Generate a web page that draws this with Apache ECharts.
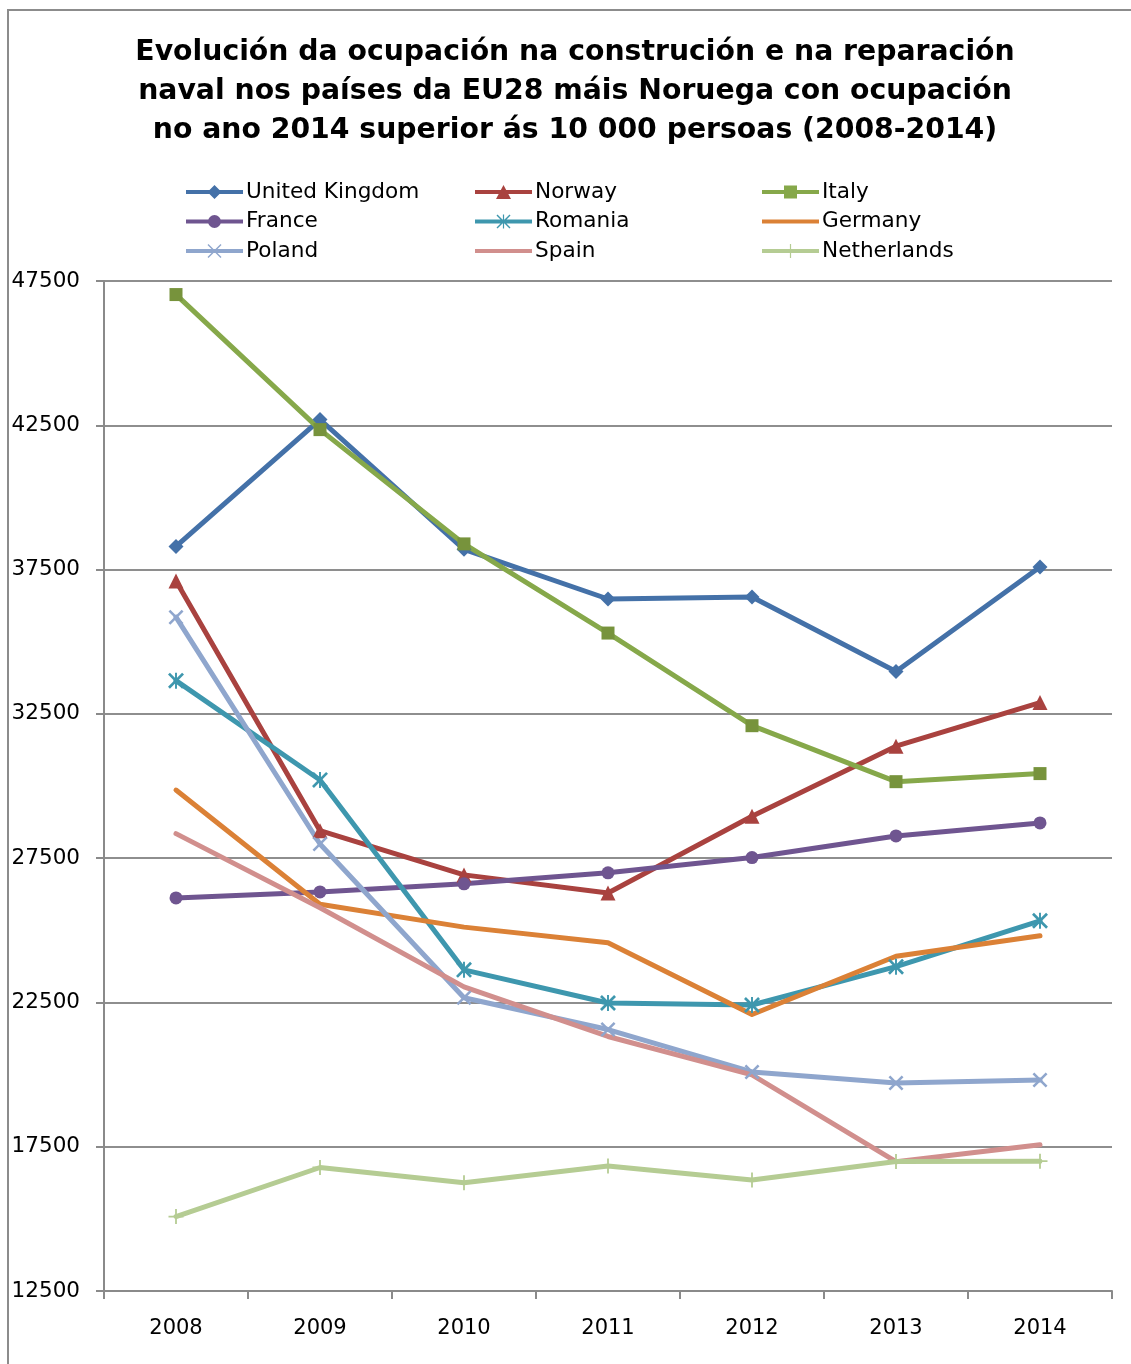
<!DOCTYPE html>
<html>
<head>
<meta charset="utf-8">
<script src="https://cdn.jsdelivr.net/npm/echarts@6/dist/echarts.min.js"></script>
<style>
  html, body { margin: 0; padding: 0; background: #fff; }
  #chart { width: 1131px; height: 1364px; }
</style>
</head>
<body>
<div id="chart"></div>
<script>
// Shipbuilding and ship repair employment, EU28 + Norway (2008-2014)
const years = ['2008', '2009', '2010', '2011', '2012', '2013', '2014'];

const unitedKingdom = [38300, 42700, 38200, 36480, 36550, 33970, 37590];
const norway        = [37100, 28450, 26920, 26290, 28950, 31380, 32890];
const italy         = [47030, 42350, 38390, 35300, 32090, 30150, 30430];
const france        = [26120, 26330, 26610, 26990, 27520, 28270, 28720];
const romania       = [33650, 30210, 23630, 22480, 22410, 23740, 25330];
const germany       = [29860, 25900, 25110, 24570, 22080, 24100, 24810];
const poland        = [35850, 27990, 22660, 21560, 20090, 19710, 19810];
const spain         = [28350, 25780, 23040, 21320, 19990, 16980, 17570];
const netherlands   = [15080, 16780, 16250, 16830, 16350, 16990, 17000];

const yTicks = [12500, 17500, 22500, 27500, 32500, 37500, 42500, 47500];

const FONT = 'DejaVu Sans';

// stroked-looking markers built from thin filled bars
const SYM_X = 'path://M0,1.2 L1.2,0 L10,8.8 L8.8,10 Z M8.8,0 L10,1.2 L1.2,10 L0,8.8 Z';
const SYM_STAR = SYM_X + ' M4.4,0 L5.6,0 L5.6,10 L4.4,10 Z';
const SYM_PLUS = 'path://M4.4,0 L5.6,0 L5.6,10 L4.4,10 Z M0,4.4 L10,4.4 L10,5.6 L0,5.6 Z';

// legend icons: a thick line segment with the series marker in the middle (57 x 14 box)
const BAR = 'M0,5 L57,5 L57,9 L0,9 Z';
const VBAR = ' M27.9,0 L29.1,0 L29.1,14 L27.9,14 Z';
const XMARK = ' M21.5,1 L22.5,0 L35.5,13 L34.5,14 Z M34.5,0 L35.5,1 L22.5,14 L21.5,13 Z';
const ICONS = {
  'United Kingdom': 'path://' + BAR + ' M28.5,0 L35.5,7 L28.5,14 L21.5,7 Z',
  'Norway': 'path://' + BAR + ' M28.5,0 L36,14 L21,14 Z',
  'Italy': 'path://' + BAR + ' M22,0.5 L35,0.5 L35,13.5 L22,13.5 Z',
  'France': 'path://' + BAR + ' M28.5,0.5 A6.5,6.5 0 1 1 28.5,13.5 A6.5,6.5 0 1 1 28.5,0.5 Z',
  'Romania': 'path://' + BAR + XMARK + VBAR,
  'Germany': 'path://' + BAR,
  'Poland': 'path://' + BAR + XMARK,
  'Spain': 'path://' + BAR,
  'Netherlands': 'path://' + BAR + VBAR
};

const COLORS = {
  'United Kingdom': '#4471A8',
  'Norway': '#A9423F',
  'Italy': '#86A84A',
  'France': '#6F5590',
  'Romania': '#3E97AE',
  'Germany': '#DB8136',
  'Poland': '#8FA6CD',
  'Spain': '#D18F8D',
  'Netherlands': '#B5CC93'
};

function line(name, data, symbol, size, markerColor) {
  return {
    name: name,
    type: 'line',
    data: data,
    symbol: symbol,
    symbolSize: size,
    showSymbol: symbol !== 'none',
    lineStyle: { color: COLORS[name], width: 5, cap: 'round', join: 'round' },
    itemStyle: { color: markerColor || COLORS[name], borderWidth: 0 },
    emphasis: { disabled: true },
    z: 3
  };
}

const series = [
  line('United Kingdom', unitedKingdom, 'diamond', 15),
  line('Norway', norway, 'triangle', 15),
  line('Italy', italy, 'rect', 13, '#77933C'),
  line('France', france, 'circle', 13),
  line('Romania', romania, SYM_STAR, 16),
  line('Germany', germany, 'none', 0),
  line('Poland', poland, SYM_X, 15),
  line('Spain', spain, 'none', 0),
  line('Netherlands', netherlands, SYM_PLUS, 15)
];

function legendColumn(names, left) {
  return {
    data: names.map(n => ({ name: n, icon: ICONS[n], itemStyle: { color: COLORS[n] } })),
    orient: 'vertical',
    left: left,
    top: 181,
    padding: 0,
    itemWidth: 57,
    itemHeight: 14,
    itemGap: 7.5,
    selectedMode: false,
    itemStyle: { borderWidth: 0 },
    textStyle: { fontFamily: FONT, fontSize: 21.6, color: '#000', lineHeight: 22, padding: [0, 0, 0, -2] }
  };
}

const chart = echarts.init(document.getElementById('chart'), null, { renderer: 'canvas' });

chart.setOption({
  animation: false,
  backgroundColor: '#fff',
  title: {
    text: 'Evolución da ocupación na construción e na reparación\nnaval nos países da EU28 máis Noruega con ocupación\nno ano 2014 superior ás 10 000 persoas (2008-2014)',
    left: 570,
    textAlign: 'center',
    top: 28,
    textStyle: { fontFamily: FONT, fontSize: 28.3, fontWeight: 'bold', color: '#000', lineHeight: 39 }
  },
  legend: [
    legendColumn(['United Kingdom', 'France', 'Poland'], 186),
    legendColumn(['Norway', 'Romania', 'Spain'], 475),
    legendColumn(['Italy', 'Germany', 'Netherlands'], 762)
  ],
  grid: { left: 104, right: 19, top: 281, bottom: 73, containLabel: false },
  xAxis: {
    type: 'category',
    data: years,
    boundaryGap: true,
    axisLine: { lineStyle: { color: '#8a8a8a', width: 2 } },
    axisTick: { show: true, length: 8, lineStyle: { color: '#8a8a8a', width: 2 } },
    axisLabel: { fontFamily: FONT, fontSize: 21, color: '#000', margin: 27 },
    splitLine: { show: false }
  },
  yAxis: [
    {
      type: 'value',
      min: 12500,
      max: 47500,
      interval: 2500,
      position: 'left',
      axisLine: { show: true, lineStyle: { color: '#8a8a8a', width: 2 } },
      axisTick: { show: false },
      splitLine: { show: false },
      axisLabel: {
        fontFamily: FONT, fontSize: 21.5, color: '#000', margin: 24,
        formatter: v => (yTicks.indexOf(v) >= 0 ? String(v) : '')
      }
    },
    {
      // gridlines and ticks every 5000 above the axis minimum
      type: 'value',
      min: 0,
      max: 35000,
      interval: 5000,
      position: 'left',
      axisLine: { show: false },
      axisTick: { show: true, length: 8, lineStyle: { color: '#8a8a8a', width: 2 } },
      axisLabel: { show: false },
      splitLine: { show: true, lineStyle: { color: '#8e8e8e', width: 2 } }
    }
  ],
  graphic: [
    {
      type: 'rect',
      silent: true,
      shape: { x: 8, y: 10, width: 1200, height: 1400 },
      style: { fill: 'none', stroke: '#8c8c8c', lineWidth: 2 },
      z: -1
    }
  ],
  series: series
});
</script>
</body>
</html>
